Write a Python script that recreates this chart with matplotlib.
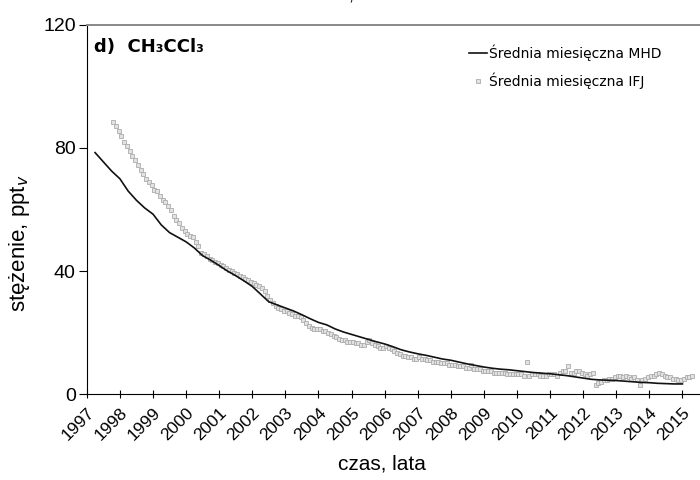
import numpy as np
import matplotlib
matplotlib.use("Agg")
import matplotlib.pyplot as plt

plt.rcParams['font.family'] = ['Liberation Sans', 'DejaVu Sans']

# MHD monthly mean, sampled quarterly from 1997.25
mhd_start = 1997.25
mhd_values = [78.5, 75.5, 72.5, 70.0, 66.0, 63.0, 60.5, 58.5, 55.0, 52.5, 51.0, 49.5,
              47.5, 45.0, 43.5, 41.8, 40.0, 38.5, 36.8, 35.0, 32.5, 30.0, 29.0, 28.0,
              27.0, 25.8, 24.5, 23.3, 22.5, 21.2, 20.2, 19.4, 18.6, 17.8, 17.0, 16.3,
              15.4, 14.4, 13.7, 13.1, 12.6, 12.0, 11.4, 11.0, 10.4, 9.8, 9.3, 8.8,
              8.4, 8.1, 7.9, 7.6, 7.3, 7.0, 6.8, 6.6, 6.3, 6.0, 5.6, 5.2,
              4.8, 4.6, 4.5, 4.4, 4.2, 4.0, 3.8, 3.7, 3.5, 3.4, 3.3, 3.3]

# IFJ monthly mean, Oct 1997 - Apr 2015
ifj_1997 = [88.5, 87.0, 85.5]
ifj_1998 = [84.0, 82.0, 80.5, 79.0, 77.5, 76.0, 74.5, 73.0, 71.5, 70.0, 69.0, 68.0]
ifj_1999 = [66.5, 66.0, 64.5, 63.0, 62.5, 61.0, 60.0, 58.0, 56.5, 55.5, 54.0, 53.0]
ifj_2000 = [52.0, 51.5, 51.0, 49.5, 48.0, 46.0, 45.5, 45.0, 44.0, 43.5, 43.0, 42.5]
ifj_2001 = [42.0, 41.5, 41.0, 40.5, 40.0, 39.5, 39.0, 38.5, 38.0, 37.5, 37.0, 36.5]
ifj_2002 = [36.0, 35.5, 35.0, 34.5, 33.5, 32.0, 30.5, 29.5, 28.5, 28.0, 27.5, 27.0]
ifj_2003 = [27.0, 26.5, 26.0, 25.5, 25.5, 25.0, 24.0, 23.0, 22.0, 21.5, 21.0, 21.0]
ifj_2004 = [21.0, 20.5, 20.5, 20.0, 19.5, 19.0, 18.5, 18.0, 17.5, 17.5, 17.0, 17.0]
ifj_2005 = [17.0, 16.5, 16.5, 16.0, 16.0, 17.0, 17.5, 16.5, 16.0, 15.5, 15.0, 15.0]
ifj_2006 = [15.5, 15.0, 14.5, 14.0, 13.5, 13.0, 12.5, 12.5, 12.0, 12.0, 11.5, 11.5]
ifj_2007 = [12.0, 11.5, 11.5, 11.0, 11.0, 10.5, 10.5, 10.5, 10.0, 10.0, 10.0, 9.5]
ifj_2008 = [9.5, 9.5, 9.0, 9.0, 9.0, 8.5, 8.5, 9.5, 8.0, 8.0, 8.0, 7.5]
ifj_2009 = [7.5, 7.5, 7.5, 7.0, 7.0, 7.0, 7.0, 7.0, 6.5, 6.5, 6.5, 6.5]
ifj_2010 = [6.5, 6.5, 6.0, 10.5, 6.0, 6.5, 6.5, 6.5, 6.0, 6.0, 6.0, 6.5]
ifj_2011 = [6.5, 6.5, 6.0, 7.0, 7.5, 7.5, 9.0, 7.0, 7.0, 7.5, 7.5, 7.0]
ifj_2012 = [6.5, 6.0, 6.5, 7.0, 3.0, 3.5, 4.0, 4.5, 4.5, 5.0, 5.0, 5.5]
ifj_2013 = [6.0, 6.0, 5.5, 6.0, 5.5, 5.0, 5.5, 4.5, 3.0, 4.5, 5.0, 5.5]
ifj_2014 = [6.0, 6.0, 6.5, 7.0, 6.5, 6.0, 5.5, 5.5, 5.0, 5.0, 4.5, 4.5]
ifj_2015 = [5.0, 5.5, 5.5, 6.0]

years = list(range(1997, 2016))
year_labels = [str(y) for y in years]

ifj_values = (ifj_1997 + ifj_1998 + ifj_1999 + ifj_2000 + ifj_2001 + ifj_2002 +
              ifj_2003 + ifj_2004 + ifj_2005 + ifj_2006 + ifj_2007 + ifj_2008 +
              ifj_2009 + ifj_2010 + ifj_2011 + ifj_2012 + ifj_2013 + ifj_2014 + ifj_2015)
ifj_time = 1997 + 9 / 12 + 1 / 24 + np.arange(len(ifj_values)) / 12
mhd_time = mhd_start + 0.25 * np.arange(len(mhd_values))

fig = plt.figure(figsize=(7, 4.8), dpi=100)
ax = fig.add_axes([0.124, 0.179, 0.876, 0.769])

ax.plot(ifj_time, ifj_values, linestyle='none', marker='s', markersize=3.5,
        markerfacecolor='#e2e2e2', markeredgecolor='#ababab', markeredgewidth=0.6,
        label='Średnia miesięczna IFJ', zorder=2)
ax.plot(mhd_time, mhd_values, color='#111111', linewidth=1.2,
        label='Średnia miesięczna MHD', zorder=3)

ax.set_xlim(1997, 2015.53)
ax.set_ylim(0, 120)
ax.set_yticks([0, 40, 80, 120])
ax.set_xticks(years)
ax.set_xticklabels(year_labels, rotation=45, ha='right', rotation_mode='anchor', fontsize=12.5)
ax.tick_params(axis='y', labelsize=14, direction='out', length=6, width=0.8, pad=2)
ax.tick_params(axis='x', direction='inout', length=6, width=0.8, pad=5)

ax.spines['right'].set_visible(False)
ax.spines['top'].set_color('#888888')
ax.spines['top'].set_linewidth(1.4)
ax.spines['left'].set_linewidth(0.8)
ax.spines['bottom'].set_linewidth(0.8)

ax.set_ylabel('stężenie, ppt$_v$', fontsize=16)
ax.yaxis.set_label_coords(-0.089, 0.41)
ax.set_xlabel('czas, lata', fontsize=15)
ax.xaxis.set_label_coords(0.482, -0.163)

ax.text(0.012, 0.965, 'd)  CH₃CCl₃', transform=ax.transAxes, fontsize=13,
        fontweight='bold', va='top', ha='left', family='DejaVu Sans')

handles, labels = ax.get_legend_handles_labels()
ax.legend(handles[::-1], labels[::-1], loc='upper left', bbox_to_anchor=(0.652, 0.933),
          bbox_transform=fig.transFigure, frameon=False,
          prop={'family': 'DejaVu Sans', 'size': 10},
          handlelength=1.3, handletextpad=0.15, labelspacing=0.8)

# x label of the panel above, cut by the page edge
fig.text(0.5, 1 + 5 / 480, 'czas, lata', fontsize=13, ha='center', va='center')

fig.savefig('out.png', dpi=100)
